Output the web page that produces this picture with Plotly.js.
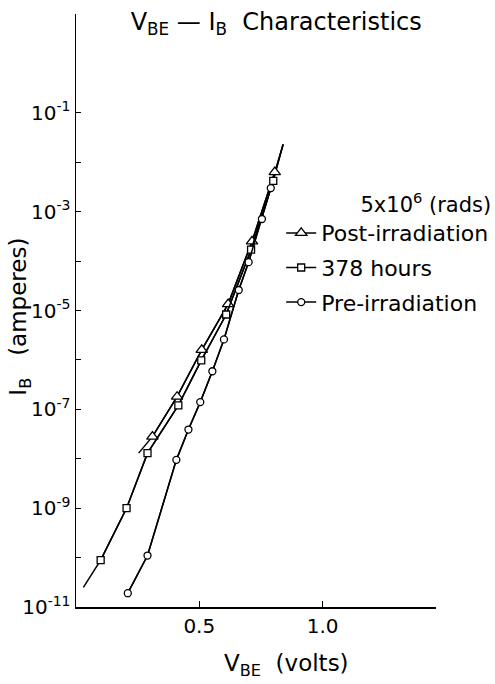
<!DOCTYPE html>
<html>
<head>
<meta charset="utf-8">
<script src="https://cdn.plot.ly/plotly-3.0.1.min.js"></script>
<style>html,body{margin:0;padding:0;background:#fff;}#chart{width:495px;height:684px;}</style>
</head>
<body>
<div id="chart"></div>
<script>
// Data (V_BE in volts, I_B in amperes)
const seriesNames = ['Post-irradiation', '378 hours', 'Pre-irradiation'];

const postV = [0.31, 0.41, 0.51, 0.617, 0.714, 0.806];
const postI = [2.8e-8, 1.8e-7, 1.6e-6, 1.35e-5, 2.5e-4, 6.3e-3];

const hoursV = [0.10, 0.205, 0.29, 0.415, 0.508, 0.609, 0.71, 0.80];
const hoursI = [8.9e-11, 1.0e-9, 1.3e-8, 1.2e-7, 9.8e-7, 8.3e-6, 1.7e-4, 4.2e-3];

const preV = [0.21, 0.29, 0.407, 0.456, 0.504, 0.553, 0.60, 0.66, 0.70, 0.754, 0.79];
const preI = [1.9e-11, 1.1e-10, 9.5e-9, 3.9e-8, 1.4e-7, 5.9e-7, 2.6e-6, 2.6e-5, 9.5e-5, 7.1e-4, 3.0e-3];

// Ends of the drawn fit curves (beyond the measured points)
const postFitStartV = 0.254, postFitStartI = 1.3e-8;
const hoursFitStartV = 0.03, hoursFitStartI = 2.5e-11;
const fitEndV = 0.84, fitEndI = 2.3e-2;

// Axis ticks
const yTickExp = [-11, -10, -9, -8, -7, -6, -5, -4, -3, -2, -1];
const xTickVals = [0.5, 1.0];
const xTickText = ['0.5', '1.0'];

const FONT = 'DejaVu Sans, Liberation Sans, sans-serif';

function fitLine(x, y) {
  return {x: x, y: y, type: 'scatter', mode: 'lines', showlegend: false, hoverinfo: 'skip',
          line: {color: '#000', width: 1.5}};
}
function pts(name, x, y, symbol, size) {
  return {x: x, y: y, name: name, type: 'scatter', mode: 'lines+markers', legendgroup: name,
          line: {color: '#000', width: 1.5},
          marker: {symbol: symbol, size: size, color: '#fff', line: {color: '#000', width: 1.3}}};
}

const traces = [
  fitLine([postFitStartV].concat(postV, [fitEndV]), [postFitStartI].concat(postI, [fitEndI])),
  fitLine([hoursFitStartV].concat(hoursV, [fitEndV]), [hoursFitStartI].concat(hoursI, [fitEndI])),
  fitLine(preV.concat([fitEndV]), preI.concat([fitEndI])),
  pts(seriesNames[0], postV, postI, 'triangle-up', 10),
  pts(seriesNames[1], hoursV, hoursI, 'square', 7),
  pts(seriesNames[2], preV, preI, 'circle', 7)
];

const yTickVals = yTickExp.map(e => Math.pow(10, e));
const yTickText = yTickExp.map(e => (e % 2 !== 0) ? '10<sup>' + e + '</sup>' : '');

const layout = {
  width: 495, height: 684,
  margin: {l: 76, r: 59, t: 14, b: 77, autoexpand: false},
  paper_bgcolor: '#fff', plot_bgcolor: '#fff',
  font: {family: FONT, color: '#000', size: 20},
  title: {text: 'V<sub>BE</sub> — I<sub>B</sub>  Characteristics', font: {size: 24, family: FONT},
          x: 0.558, xanchor: 'center', xref: 'container', y: 0.968, yanchor: 'middle', yref: 'container'},
  xaxis: {range: [0, 1.46], showline: true, linecolor: '#000', linewidth: 1.5, ticks: 'inside', ticklen: 6,
          tickcolor: '#000', tickvals: xTickVals, ticktext: xTickText, showgrid: false, zeroline: false,
          tickfont: {size: 20}},
  yaxis: {type: 'log', range: [-11, 1], showline: true, linecolor: '#000', linewidth: 1.5, ticks: 'inside',
          ticklen: 5, tickcolor: '#000', tickvals: yTickVals, ticktext: yTickText, showgrid: false,
          zeroline: false, tickfont: {size: 20}},
  showlegend: true,
  legend: {x: 0.57, xanchor: 'left', y: 0.712, yanchor: 'top', bgcolor: 'rgba(0,0,0,0)', borderwidth: 0,
           font: {size: 22, family: FONT}, tracegroupgap: 3, traceorder: 'grouped',
           title: {text: '5x10<sup>6</sup> (rads)', side: 'top right', font: {size: 21, family: FONT}}},
  annotations: [
    {text: 'V<sub>BE</sub>  (volts)', xref: 'paper', yref: 'paper', x: 0.585, y: -0.098, xanchor: 'center',
     yanchor: 'middle', showarrow: false, font: {size: 23, family: FONT}},
    {text: 'I<sub>B</sub>   (amperes)', xref: 'paper', yref: 'paper', x: -0.155, y: 0.49, xanchor: 'center',
     yanchor: 'middle', textangle: -90, showarrow: false, font: {size: 23, family: FONT}}
  ]
};

Plotly.newPlot('chart', traces, layout, {displayModeBar: false, staticPlot: true});
</script>
</body>
</html>
